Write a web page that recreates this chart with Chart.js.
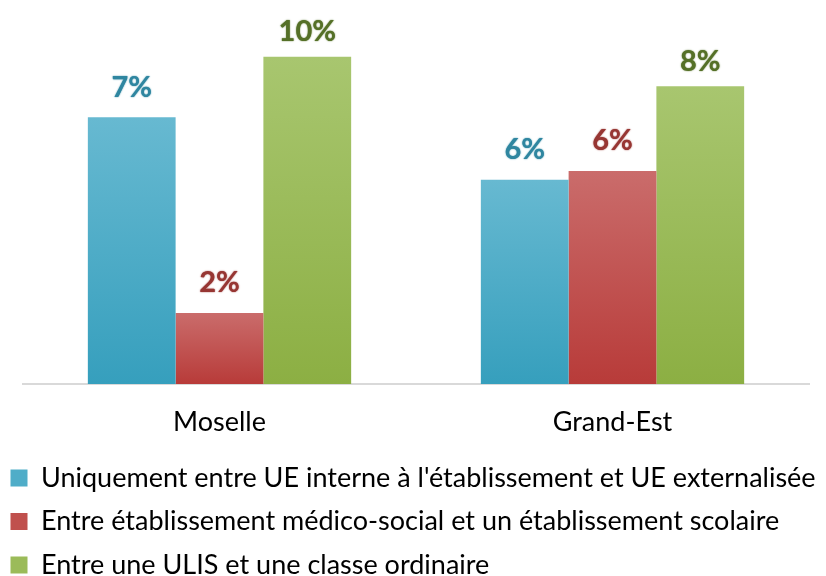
<!DOCTYPE html>
<html>
<head>
<meta charset="utf-8">
<script src="https://cdn.jsdelivr.net/npm/chart.js@4.4.1/dist/chart.umd.min.js"></script>
<style>
    html, body { margin: 0; padding: 0; background: #fff; }
</style>
</head>
<body>
<canvas id="graph" width="826" height="576"></canvas>
<script>
// categories and series
const categories = ['Moselle', 'Grand-Est'];
const seriesNames = [
    "Uniquement entre UE interne à l'établissement et UE externalisée",
    'Entre établissement médico-social et un établissement scolaire',
    'Entre une ULIS et une classe ordinaire'
];
// bar heights (%)
const interneUE = [7.7, 5.9];
const medicoSocial = [2.05, 6.15];
const ulisClasse = [9.45, 8.6];
// labels printed above the bars
const interneLabels = ['7%', '6%'];
const medicoLabels = ['2%', '6%'];
const ulisLabels = ['10%', '8%'];

const FONT = 'Lato';

// vertical gradient for each bar, light on top, dark at the base
function barGradient(top, bottom) {
    return (context) => {
        const chart = context.chart;
        if (!chart.chartArea || context.type !== 'data') return bottom;
        const y = chart.scales.y;
        const g = chart.ctx.createLinearGradient(0, y.getPixelForValue(context.raw), 0, y.getPixelForValue(0));
        g.addColorStop(0, top);
        g.addColorStop(1, bottom);
        return g;
    }
}

const legendColors = ['#4fadc8', '#c0504d', '#9bbb59'];

// draw the % text above each bar
const barLabels = {
    id: 'barLabels',
    afterDatasetsDraw(chart) {
        const ctx = chart.ctx;
        chart.data.datasets.forEach((ds, i) => {
            chart.getDatasetMeta(i).data.forEach((bar, j) => {
                ctx.save();
                ctx.font = 'bold 29px ' + FONT;
                ctx.fillStyle = ds.labelColor;
                ctx.textAlign = 'center';
                ctx.textBaseline = 'middle';
                ctx.shadowColor = ds.labelColor;
                ctx.shadowBlur = 1.5;
                ctx.fillText(ds.valueLabels[j], bar.x, bar.y - ds.labelOffset);
                ctx.restore();
            });
        });
    }
};

// invisible axis used only to keep space at a side of the plot
const spacer = (w, pos) => ({
    display: true,
    position: pos,
    min: 0,
    max: 10.8,
    grid: { display: false },
    border: { display: false },
    ticks: { display: false },
    afterFit: (scale) => { scale.width = w; },
});

const ctx = document.getElementById('graph').getContext('2d');
const dataChart = new Chart(ctx, {
    type: 'bar',
    data: {
        labels: categories,
        datasets: [
            {
                label: seriesNames[0],
                data: interneUE,
                valueLabels: interneLabels,
                labelColor: '#2f86a0',
                labelOffset: 30,
                backgroundColor: barGradient('#67b9d1', '#369fbd'),
            },
            {
                label: seriesNames[1],
                data: medicoSocial,
                valueLabels: medicoLabels,
                labelColor: '#973633',
                labelOffset: 30,
                backgroundColor: barGradient('#ca6c6b', '#b83b39'),
            },
            {
                label: seriesNames[2],
                data: ulisClasse,
                valueLabels: ulisLabels,
                labelColor: '#557027',
                labelOffset: 25,
                backgroundColor: barGradient('#a8c66f', '#8caf43'),
            },
        ],
    },
    options: {
        responsive: false,
        animation: false,
        devicePixelRatio: 1,
        categoryPercentage: 0.67,
        barPercentage: 1,
        borderWidth: 0,
        layout: {
            padding: { top: 10, left: -6, right: 0, bottom: -12.5 }
        },
        scales: {
            x: {
                grid: { display: false },
                border: { display: true, color: '#d9d9d9', width: 2 },
                ticks: {
                    color: '#000',
                    padding: 14,
                    font: { family: FONT, size: 27 },
                },
                afterFit: (scale) => { scale.height = 64; },
            },
            y: spacer(29, 'left'),
            yRight: spacer(17, 'right'),
        },
        plugins: {
            tooltip: { enabled: false },
            legend: {
                position: 'bottom',
                align: 'start',
                labels: {
                    boxWidth: 17,
                    boxHeight: 17,
                    padding: 16.5,
                    color: '#000',
                    font: { family: FONT, size: 27 },
                    generateLabels: (chart) => Chart.defaults.plugins.legend.labels.generateLabels(chart).map((item, i) => {
                        item.fillStyle = legendColors[i];
                        item.lineWidth = 0;
                        return item;
                    }),
                },
            },
        }
    },
    plugins: [barLabels]
});
</script>
</body>
</html>
